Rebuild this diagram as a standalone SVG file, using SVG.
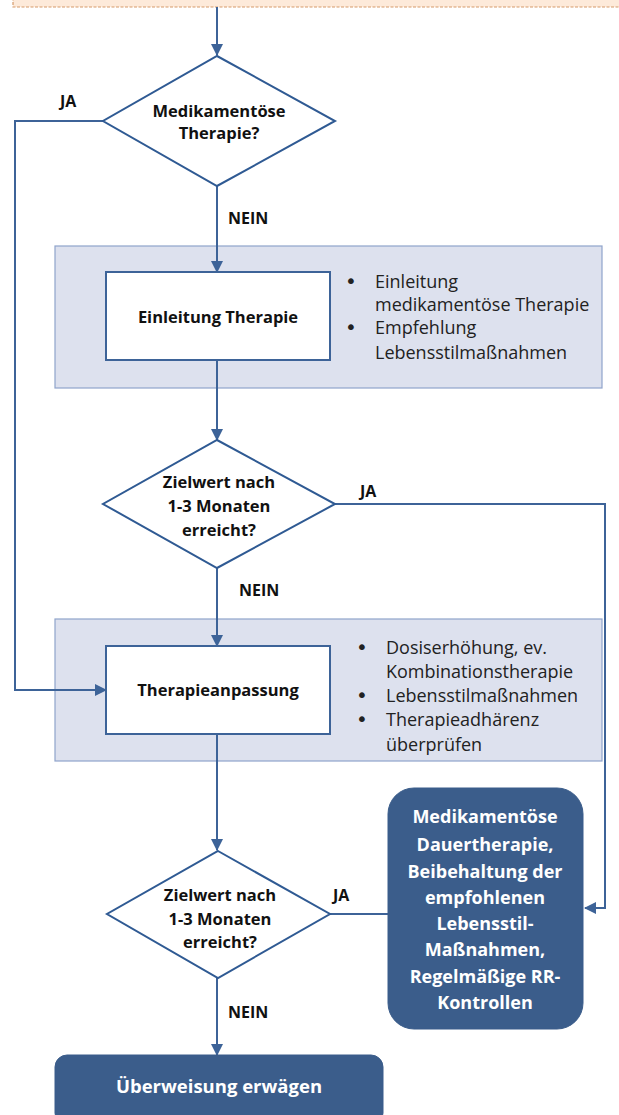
<svg xmlns="http://www.w3.org/2000/svg" width="619" height="1115" viewBox="0 0 619 1115">
<defs>
<marker id="arr" viewBox="0 0 12 12" refX="11" refY="6" markerWidth="12" markerHeight="12" markerUnits="userSpaceOnUse" orient="auto">
<path d="M0,0 L12,6 L0,12 Z" fill="#3D6398"/>
</marker>
<style>
.ln{fill:none;stroke:#3D6398;stroke-width:2}
.dia{fill:#fff;stroke:#2F5A93;stroke-width:2}
.panel{fill:#DDE1EE;stroke:#8FA4CB;stroke-width:1.2}
.box{fill:#fff;stroke:#3D6398;stroke-width:2}
.dark{fill:#3B5D8B;stroke:#3B5D8B}
.b{font-family:"Open Sans","Noto Sans",sans-serif;font-weight:700;font-size:16.5px;fill:#111;text-anchor:middle}
.r{font-family:"Open Sans","Noto Sans",sans-serif;font-size:18px;fill:#222}
.dot{font-family:"DejaVu Sans",sans-serif;font-size:20px;fill:#222}
.w{font-family:"Open Sans","Noto Sans",sans-serif;font-weight:700;font-size:18px;fill:#fff;text-anchor:middle}
.lbl{font-family:"Open Sans","Noto Sans",sans-serif;font-weight:700;font-size:16px;fill:#111}
</style>
</defs>

<g id="start">
<rect x="13" y="-20" width="620" height="27" fill="#FDEADA" stroke="#D59A6A" stroke-width="1.2" stroke-dasharray="3,1.5"/>
</g>

<g id="panel1"><rect class="panel" x="55" y="246" width="547" height="142"/></g>
<g id="panel2"><rect class="panel" x="55" y="619" width="547" height="142"/></g>

<g id="connectors">
<path class="ln" d="M217,7 V55" marker-end="url(#arr)"/>
<path class="ln" d="M103,121 H15 V690 H106" marker-end="url(#arr)"/>
<path class="ln" d="M217,186 V272" marker-end="url(#arr)"/>
<path class="ln" d="M217,360 V440" marker-end="url(#arr)"/>
<path class="ln" d="M335,504 H605 V908 H585" marker-end="url(#arr)"/>
<path class="ln" d="M217,568 V646" marker-end="url(#arr)"/>
<path class="ln" d="M217,734 V850" marker-end="url(#arr)"/>
<path class="ln" d="M330,914 H388"/>
<path class="ln" d="M217,978 V1055" marker-end="url(#arr)"/>
<text class="lbl" x="60" y="107">JA</text>
<text class="lbl" x="228" y="224">NEIN</text>
<text class="lbl" x="360" y="497">JA</text>
<text class="lbl" x="239" y="596">NEIN</text>
<text class="lbl" x="333" y="901">JA</text>
<text class="lbl" x="228" y="1018">NEIN</text>
</g>

<g id="d1">
<polygon class="dia" points="217,56 335,121 217,186 103,121"/>
<text class="b" x="219" y="117">Medikamentöse</text>
<text class="b" x="219" y="139">Therapie?</text>
</g>

<g id="n1">
<rect class="box" x="106" y="272" width="224" height="88"/>
<text class="b" x="218" y="323">Einleitung Therapie</text>
<text class="dot" x="345" y="288">•</text>
<text class="r" x="375" y="288">Einleitung</text>
<text class="r" x="375" y="311">medikamentöse Therapie</text>
<text class="dot" x="345" y="334">•</text>
<text class="r" x="375" y="334">Empfehlung</text>
<text class="r" x="375" y="359">Lebensstilmaßnahmen</text>
</g>

<g id="d2">
<polygon class="dia" points="217,440 335,504 217,568 103,504"/>
<text class="b" x="219" y="488">Zielwert nach</text>
<text class="b" x="219" y="512">1-3 Monaten</text>
<text class="b" x="219" y="536">erreicht?</text>
</g>

<g id="n2">
<rect class="box" x="106" y="646" width="224" height="88"/>
<text class="b" x="218" y="696">Therapieanpassung</text>
<text class="dot" x="356" y="654">•</text>
<text class="r" x="386" y="654">Dosiserhöhung, ev.</text>
<text class="r" x="386" y="678">Kombinationstherapie</text>
<text class="dot" x="356" y="702">•</text>
<text class="r" x="386" y="702">Lebensstilmaßnahmen</text>
<text class="dot" x="356" y="726">•</text>
<text class="r" x="386" y="726">Therapieadhärenz</text>
<text class="r" x="386" y="751">überprüfen</text>
</g>

<g id="d3">
<polygon class="dia" points="218,851 330,914 218,978 107,914"/>
<text class="b" x="220" y="901">Zielwert nach</text>
<text class="b" x="220" y="925">1-3 Monaten</text>
<text class="b" x="220" y="948">erreicht?</text>
</g>

<g id="n3">
<rect class="dark" x="388" y="788" width="195" height="241" rx="26"/>
<text class="w" x="485" y="823">Medikamentöse</text>
<text class="w" x="485" y="851">Dauertherapie,</text>
<text class="w" x="485" y="878">Beibehaltung der</text>
<text class="w" x="485" y="904">empfohlenen</text>
<text class="w" x="485" y="930">Lebensstil-</text>
<text class="w" x="485" y="956">Maßnahmen,</text>
<text class="w" x="485" y="983">Regelmäßige RR-</text>
<text class="w" x="485" y="1009">Kontrollen</text>
</g>

<g id="n4">
<rect class="dark" x="55" y="1055" width="328" height="70" rx="12"/>
<text class="w" x="219" y="1093" style="font-size:18.5px">Überweisung erwägen</text>
</g>
</svg>
